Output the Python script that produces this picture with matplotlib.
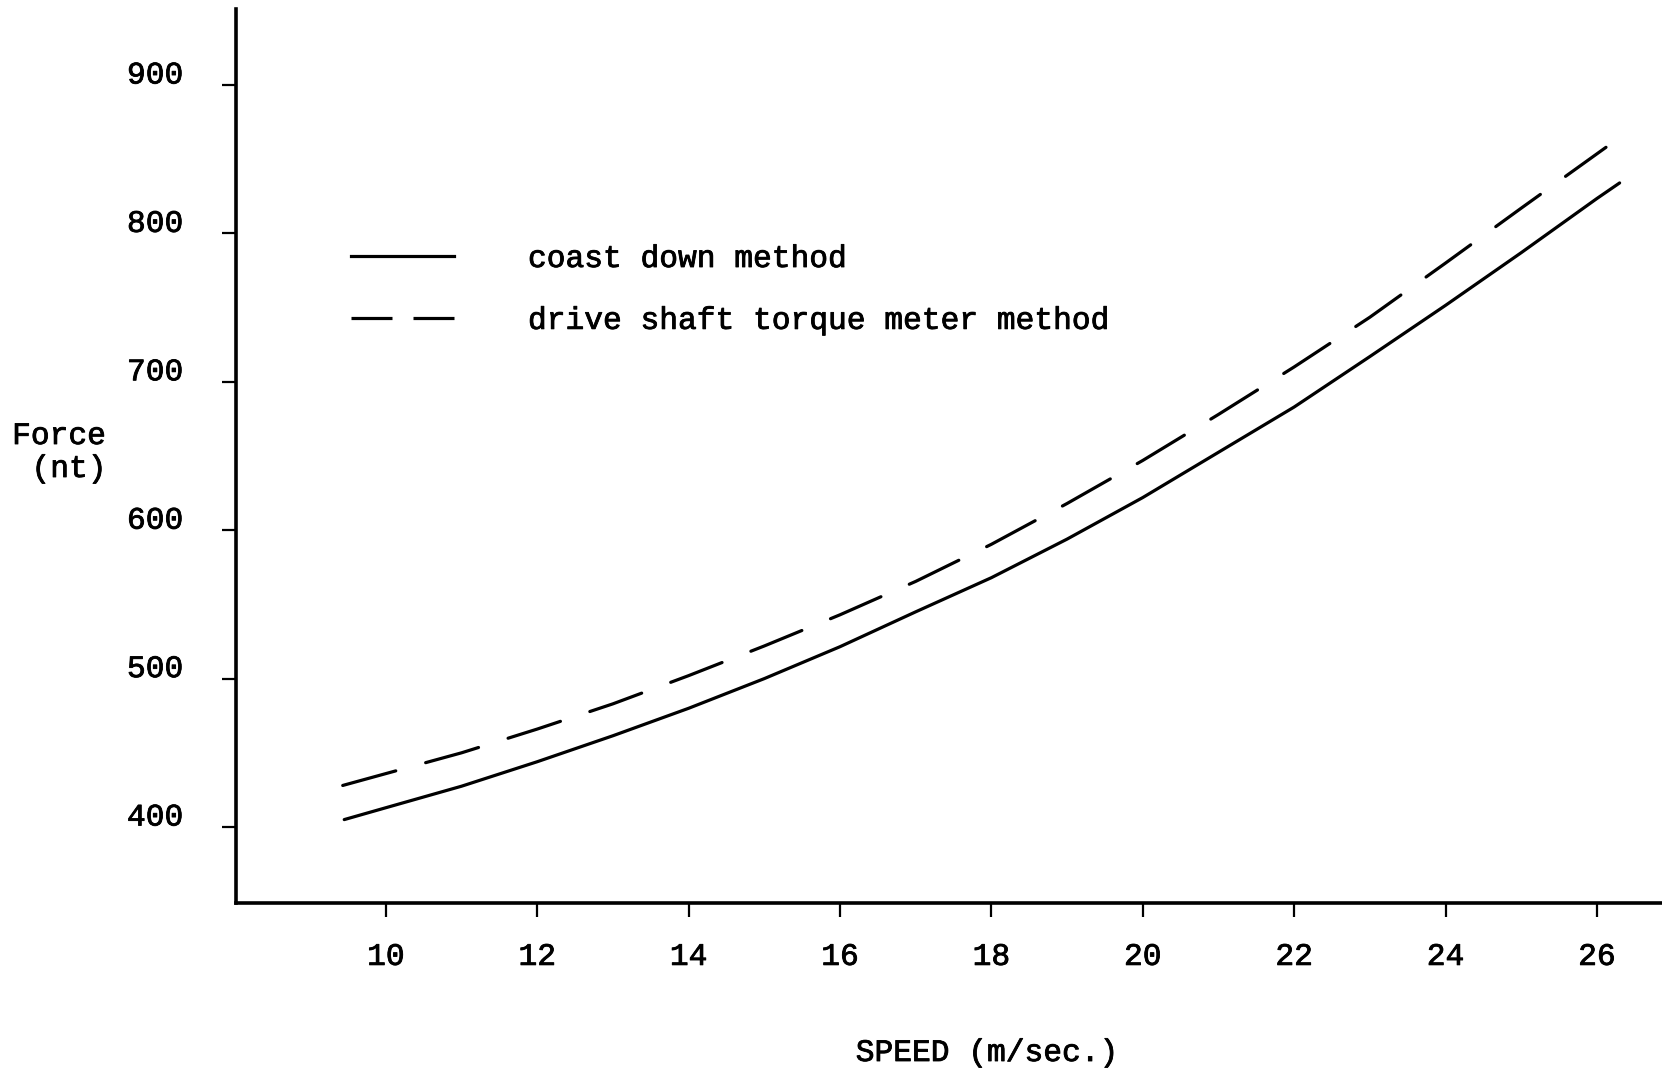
import matplotlib
matplotlib.use("Agg")
import matplotlib.pyplot as plt
from matplotlib.lines import Line2D
import matplotlib.transforms as mtransforms
import matplotlib.patheffects as pe

# ---- data ----
speed_coast = [9.45, 10, 11, 12, 13, 14, 15, 16, 17, 18, 19, 20, 21, 22, 23, 24, 25, 26, 26.3]
force_coast = [405, 413, 427.5, 444, 461.5, 480, 500, 521.5, 545, 568, 594, 622, 652.5, 683, 717, 751.5, 787, 823.5, 834]

speed_torque = [9.43, 10, 11, 12, 13, 14, 15, 16, 17, 18, 19, 20, 21, 22, 23, 24, 25, 26.12]
force_torque = [428, 436, 450, 466, 483, 502, 522, 543, 565.5, 590.5, 618, 647, 678, 710, 743.5, 780, 817, 858]

x_ticks = [10, 12, 14, 16, 18, 20, 22, 24, 26]
y_ticks = [400, 500, 600, 700, 800, 900]
legend_labels = ["coast down method", "drive shaft torque meter method"]
x_label = "SPEED (m/sec.)"
y_label_lines = ["Force", "(nt)"]

FONT = "Liberation Mono"
FS = 22.5
W, H = 1662, 1069
DPI = 100

plt.rcParams['font.family'] = [FONT, 'DejaVu Sans']
heavy = [pe.withStroke(linewidth=0.6, foreground="black")]

fig = plt.figure(figsize=(W / DPI, H / DPI), dpi=DPI)
ax = fig.add_axes([236 / W, 1 - 903 / H, 1 - 236 / W, (903 - 9) / H])

lw = 2.3
px2pt = 72 / DPI
dash_on = 55 * px2pt / lw
dash_off = 31 * px2pt / lw

ax.plot(speed_coast, force_coast, color="black", lw=lw, solid_capstyle="round",
        solid_joinstyle="round")
ax.plot(speed_torque, force_torque, color="black", lw=lw, dashes=(dash_on, dash_off),
        dash_capstyle="round", dash_joinstyle="round")

ax.set_xlim(8.02, 26.86)
ax.set_ylim(348.8, 951.2)

for s in ["top", "right"]:
    ax.spines[s].set_visible(False)
for s in ["left", "bottom"]:
    ax.spines[s].set_linewidth(2.6)

ax.set_xticks(x_ticks)
ax.set_xticklabels([str(v) for v in x_ticks])
ax.set_yticks(y_ticks)
ax.set_yticklabels([str(v) for v in y_ticks])
ax.tick_params(axis="x", direction="out", length=10, width=1.6, pad=18, labelsize=FS)
ax.tick_params(axis="y", direction="out", length=10, width=1.6, pad=28, labelsize=FS)

# y tick labels sit slightly above their ticks in the reference
off = mtransforms.ScaledTranslation(0, 13 / DPI, fig.dpi_scale_trans)
for lab in ax.get_yticklabels():
    lab.set_transform(lab.get_transform() + off)
    lab.set_path_effects(heavy)
for lab in ax.get_xticklabels():
    lab.set_path_effects(heavy)

# axis labels
fig.text(987 / W, 1 - 1053 / H, x_label, ha="center", va="center", fontsize=FS,
         path_effects=heavy)
fig.text(59 / W, 1 - 436 / H, y_label_lines[0], ha="center", va="center", fontsize=FS,
         path_effects=heavy)
fig.text(69 / W, 1 - 469 / H, y_label_lines[1], ha="center", va="center", fontsize=FS,
         path_effects=heavy)

# legend with its own handle styles
h1 = Line2D([], [], color="black", lw=lw)
h2 = Line2D([], [], color="black", lw=lw, dashes=(41 * px2pt / lw, 21 * px2pt / lw))
leg = ax.legend([h1, h2], legend_labels, loc="upper left",
                bbox_to_anchor=(351 / W, 1 - 244 / H), bbox_transform=fig.transFigure,
                frameon=False, fontsize=FS, handlelength=103 / (FS / px2pt),
                handletextpad=74 / (FS / px2pt), labelspacing=1.02,
                borderpad=0, borderaxespad=0)
for t in leg.get_texts():
    t.set_path_effects(heavy)

fig.savefig("out.png", dpi=DPI)
